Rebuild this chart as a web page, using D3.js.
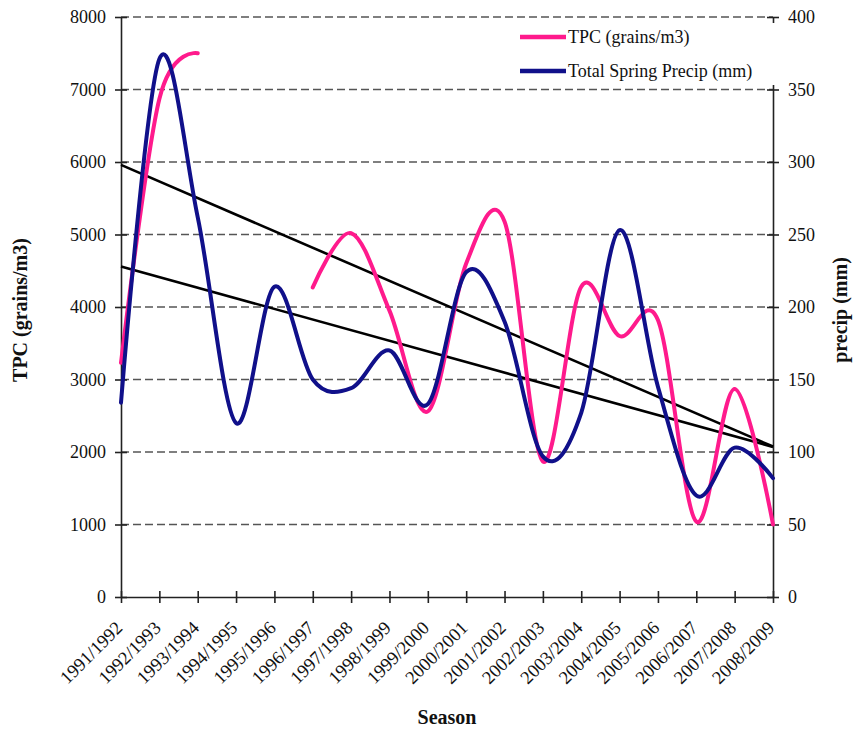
<!DOCTYPE html>
<html>
<head>
<meta charset="utf-8">
<script src="https://cdn.jsdelivr.net/npm/d3@7"></script>
<style>
  html, body { margin: 0; padding: 0; background: #fff; }
  svg { display: block; }
</style>
</head>
<body>
<svg id="chart" width="861" height="729"></svg>
<script>
// Seasons on the category axis
const seasons = ["1991/1992","1992/1993","1993/1994","1994/1995","1995/1996","1996/1997",
  "1997/1998","1998/1999","1999/2000","2000/2001","2001/2002","2002/2003","2003/2004",
  "2004/2005","2005/2006","2006/2007","2007/2008","2008/2009"];

// Total pollen count (grains/m3); null = no record for that season
const tpc = [3230, 6870, 7500, null, null, 4270, 5020, 3950, 2560, 4600, 5180, 1870,
  4280, 3600, 3820, 1040, 2870, 1000];

// Total spring precipitation (mm)
const precip = [134, 371, 262, 120, 214, 150, 144, 170, 133, 224, 190, 97,
  127, 253, 145, 70, 103, 82];

// Linear trend end values (first and last season)
const tpcTrend = [5960, 2075];
const precipTrend = [228, 103.5];

const leftTicks = [0, 1000, 2000, 3000, 4000, 5000, 6000, 7000, 8000];
const rightTicks = [0, 50, 100, 150, 200, 250, 300, 350, 400];

const seriesNames = ["TPC (grains/m3)", "Total Spring Precip (mm)"];
const seriesColors = ["#ff1a8c", "#10108a"];

const FONT = "'Liberation Serif', 'Times New Roman', serif";

const svg = d3.select("#chart");
const plotLeft = 121, plotRight = 773, plotTop = 17, plotBottom = 597;

const x = d3.scalePoint().domain(seasons).range([plotLeft, plotRight]);
const yL = d3.scaleLinear().domain([0, 8000]).range([plotBottom, plotTop]);
const yR = d3.scaleLinear().domain([0, 400]).range([plotBottom, plotTop]);

// dashed horizontal gridlines
svg.append("g").selectAll("line")
  .data(leftTicks.filter(d => d > 0))
  .join("line")
  .attr("x1", plotLeft).attr("x2", plotRight)
  .attr("y1", d => yL(d)).attr("y2", d => yL(d))
  .attr("stroke", "#555").attr("stroke-width", 1.6)
  .attr("stroke-dasharray", "8,4");

// left axis
const gL = svg.append("g").attr("transform", `translate(${plotLeft},0)`)
  .call(d3.axisLeft(yL).tickValues(leftTicks).tickFormat(d3.format("d"))
    .tickSize(6).tickSizeOuter(0).tickPadding(9));
// right axis
const gR = svg.append("g").attr("transform", `translate(${plotRight},0)`)
  .call(d3.axisRight(yR).tickValues(rightTicks).tickFormat(d3.format("d"))
    .tickSize(6).tickSizeOuter(0).tickPadding(9));
// bottom axis
const gB = svg.append("g").attr("transform", `translate(0,${plotBottom})`)
  .call(d3.axisBottom(x).tickSize(6).tickSizeOuter(0).tickPadding(4));

[gL, gR, gB].forEach(g => {
  g.select(".domain").attr("stroke", "#222").attr("stroke-width", 1.6);
  g.selectAll(".tick line").attr("stroke", "#222").attr("stroke-width", 1.6);
  g.selectAll("text")
    .style("font-family", FONT)
    .style("font-size", "18px")
    .attr("fill", "#111");
});
// ticks cross their axis line
gL.selectAll(".tick line").attr("x1", 6);
gR.selectAll(".tick line").attr("x1", -6);
gB.selectAll(".tick line").attr("y1", -6);

gB.selectAll(".tick text")
  .style("font-size", "18.5px")
  .attr("text-anchor", "end")
  .attr("dy", 0)
  .attr("transform", "translate(-5,25) rotate(-45)");

// axis titles
const title = (sel) => sel.style("font-family", FONT).style("font-size", "20px")
  .style("font-weight", "bold").attr("fill", "#111").attr("text-anchor", "middle");
svg.append("text")
  .attr("transform", `translate(27,310) rotate(-90)`)
  .call(title)
  .text("TPC (grains/m3)");
svg.append("text")
  .attr("transform", `translate(847,310) rotate(-90)`)
  .call(title)
  .text("precip (mm)");
svg.append("text")
  .attr("x", (plotLeft + plotRight) / 2).attr("y", 724)
  .call(title)
  .text("Season");

// trend lines
const trendLine = (scale, vals) => d3.line()
  .x((d, i) => i === 0 ? plotLeft : plotRight)
  .y(d => scale(d))(vals);
svg.append("path").attr("d", trendLine(yL, tpcTrend))
  .attr("fill", "none").attr("stroke", "#000").attr("stroke-width", 2.6);
svg.append("path").attr("d", trendLine(yR, precipTrend))
  .attr("fill", "none").attr("stroke", "#000").attr("stroke-width", 2.6);

// smoothed series
const curve = d3.curveCardinal.tension(0);
const tpcLine = d3.line()
  .defined(d => d != null)
  .x((d, i) => x(seasons[i]))
  .y(d => yL(d))
  .curve(curve);
const precipLine = d3.line()
  .x((d, i) => x(seasons[i]))
  .y(d => yR(d))
  .curve(curve);

svg.append("path").attr("d", tpcLine(tpc))
  .attr("fill", "none").attr("stroke", seriesColors[0])
  .attr("stroke-width", 4).attr("stroke-linejoin", "round").attr("stroke-linecap", "round");
svg.append("path").attr("d", precipLine(precip))
  .attr("fill", "none").attr("stroke", seriesColors[1])
  .attr("stroke-width", 4).attr("stroke-linejoin", "round").attr("stroke-linecap", "round");

// legend
const lg = svg.append("g");
lg.append("rect").attr("x", 508).attr("y", 23).attr("width", 272).attr("height", 62)
  .attr("fill", "#fff");
seriesNames.forEach((name, i) => {
  const yy = 37 + i * 34;
  lg.append("line").attr("x1", 520).attr("x2", 566).attr("y1", yy).attr("y2", yy)
    .attr("stroke", seriesColors[i]).attr("stroke-width", 4.5);
  lg.append("text").attr("x", 568).attr("y", yy + 6)
    .style("font-family", FONT).style("font-size", "18px").attr("fill", "#111")
    .text(name);
});
</script>
</body>
</html>
